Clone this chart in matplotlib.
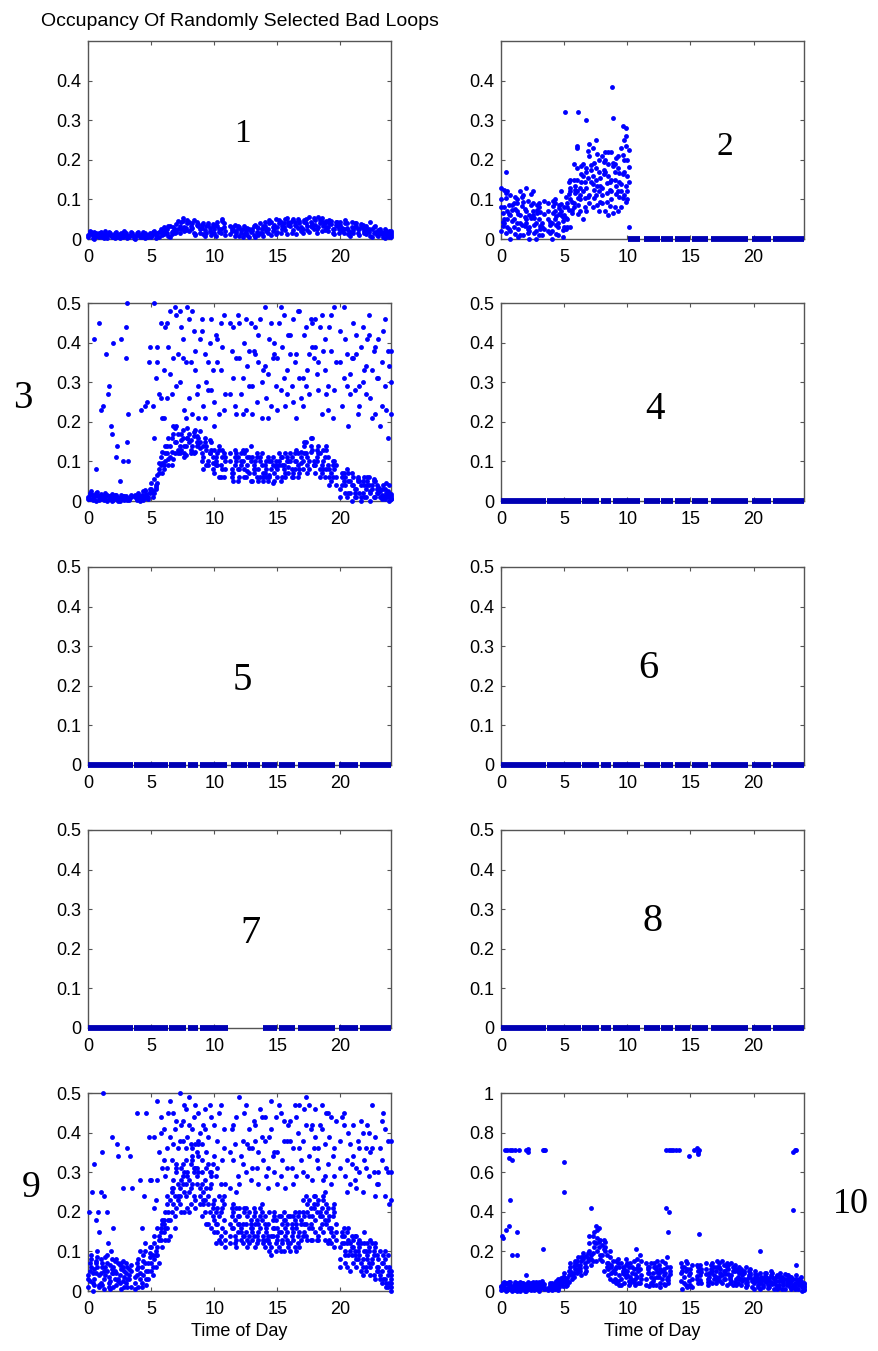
import numpy as np
import matplotlib.pyplot as plt
from matplotlib.ticker import FormatStrFormatter

# sample times (hour of day), 15 min apart, and a second set half a step later
TIME = [0.0, 0.25, 0.5, 0.75, 1.0, 1.25, 1.5, 1.75, 2.0, 2.25, 2.5, 2.75,
        3.0, 3.25, 3.5, 3.75, 4.0, 4.25, 4.5, 4.75, 5.0, 5.25, 5.5, 5.75,
        6.0, 6.25, 6.5, 6.75, 7.0, 7.25, 7.5, 7.75, 8.0, 8.25, 8.5, 8.75,
        9.0, 9.25, 9.5, 9.75, 10.0, 10.25, 10.5, 10.75, 11.0, 11.25, 11.5, 11.75,
        12.0, 12.25, 12.5, 12.75, 13.0, 13.25, 13.5, 13.75, 14.0, 14.25, 14.5, 14.75,
        15.0, 15.25, 15.5, 15.75, 16.0, 16.25, 16.5, 16.75, 17.0, 17.25, 17.5, 17.75,
        18.0, 18.25, 18.5, 18.75, 19.0, 19.25, 19.5, 19.75, 20.0, 20.25, 20.5, 20.75,
        21.0, 21.25, 21.5, 21.75, 22.0, 22.25, 22.5, 22.75, 23.0, 23.25, 23.5, 23.75, 24.0]
TIME2 = [0.125, 0.375, 0.625, 0.875, 1.125, 1.375, 1.625, 1.875, 2.125, 2.375, 2.625, 2.875,
         3.125, 3.375, 3.625, 3.875, 4.125, 4.375, 4.625, 4.875, 5.125, 5.375, 5.625, 5.875,
         6.125, 6.375, 6.625, 6.875, 7.125, 7.375, 7.625, 7.875, 8.125, 8.375, 8.625, 8.875,
         9.125, 9.375, 9.625, 9.875, 10.125, 10.375, 10.625, 10.875, 11.125, 11.375, 11.625, 11.875,
         12.125, 12.375, 12.625, 12.875, 13.125, 13.375, 13.625, 13.875, 14.125, 14.375, 14.625, 14.875,
         15.125, 15.375, 15.625, 15.875, 16.125, 16.375, 16.625, 16.875, 17.125, 17.375, 17.625, 17.875,
         18.125, 18.375, 18.625, 18.875, 19.125, 19.375, 19.625, 19.875, 20.125, 20.375, 20.625, 20.875,
         21.125, 21.375, 21.625, 21.875, 22.125, 22.375, 22.625, 22.875, 23.125, 23.375, 23.625, 23.875, 24.0]

# loop 1
P1_A = [.004,.012,.018,.007, .015,.003,.009,.016, .006,.013,.002,.011, .010,.004,.014,.001,
        .013,.006,.002,.009, .004,.016,.008,.020, .012,.025,.006,.030, .038,.015,.045,.022,
        .020,.040,.012,.033, .028,.008,.036,.018, .015,.032,.024,.040, None,.012,.030,.020,
        .008,.024,.016,.004, .020,.006,.028,.014, .034,.016,.042,.025, .018,.044,.030,.012,
        .040,.022,.034,.046, .026,.050,.018,.038, .048,.030,.052,.022, .020,.038,.012,.032,
        .036,.014,.028,.008, .022,.034,.010,.028, .012,.026,.004,.018, .008,.018,.003,.014, .010]
P1_B = [.014,.003,.008,.016, .006,.012,.018,.004, .015,.004,.010,.017, .003,.012,.007,.015,
        .005,.014,.010,.016, .012,.003,.018,.010, .022,.008,.018,.014, .024,.042,.030,.048,
        .034,.016,.042,.024, .012,.032,.020,.038, .036,.018,.046,.010, None,.026,.008,.032,
        .022,.012,.028,.018, .010,.030,.016,.034, .020,.048,.030,.012, .040,.024,.050,.036,
        .016,.044,.028,.020, .042,.022,.034,.054, .024,.040,.034,.046, .040,.024,.044,.016,
        .020,.040,.012,.030, .030,.016,.038,.020, .022,.008,.030,.014, .016,.006,.012,.020, .006]
P1_C = [.009,.017,.001,.012, .018,.008,.002,.011, .009,.018,.013,.005, .016,.008,.011,.005,
        .018,.010,.015,.004, .008,.020,.014,.024, .030,.016,.034,.020, .018,.034,.052,.028,
        .044,.028,.010,.038, .036,.022,.040,.010, .024,.044,.014,.030, None,.034,.022,.016,
        .030,.006,.020,.026, .026,.036,.010,.024, .044,.026,.010,.036, .030,.014,.040,.052,
        .032,.050,.012,.040, .016,.040,.056,.030, .036,.056,.020,.040, .030,.046,.026,.042,
        .044,.026,.040,.018, .014,.040,.026,.036, .032,.018,.026,.034, .022,.012,.024,.008, .016]
P1_D = [.020,.010,.015,.004, .010,.020,.014,.008, .002,.009,.016,.020, .008,.018,.003,.011,
        .009,.018,.006,.013, .018,.010,.006,.016, .016,.032,.012,.026, .046,.026,.020,.040,
        .026,.048,.036,.016, .040,.016,.028,.034, .008,.026,.050,.020, None,.020,.036,.028,
        .016,.032,.010,.022, .034,.018,.040,.008, .026,.040,.020,.050, .048,.034,.022,.044,
        .046,.036,.050,.030, .048,.032,.044,.024, .016,.048,.044,.030, .048,.014,.036,.024,
        .028,.048,.022,.042, .040,.024,.032,.014, .026,.044,.016,.010, .026,.014,.020,.004, .020]

# loop 2 - 0h to 10h, then zero
P2_L1 = [.02,.08,.05,.11, .03,.07,.01,.093, .04,.00,.06,.02, .08,.03,None,.05, .02,.07,.04,.088,
         .06,.03,.12,.08, .15,.07,.12,.18, .09,.16,.11,.20, .13,.07,.19,.10, .15,.21,.08,.17, .12]
P2_L2 = [.065,.015,.085,.045, .075,.025,.105,.055, .015,.085,.035,.065, .025,.095,None,.015,
         .065,.035,.085,.055, .105,.145,.065,.115, .085,.185,.145,.105, .175,.125,.085,.155,
         .195,.115,.145,.065, .205,.105,.165,.135, .225]
P2_L3 = [.10,.04,.07,.02, .05,.09,.04,.01, .07,.03,.09,.00, .05,.01,None,.07, .04,.09,.01,.06,
         .03,.08,.10,.15, .12,.10,.19,.13, .21,.08,.18,.12, .09,.17,.22,.15, .08,.18,.12,.20, .16]
P2_L4 = [.033,.104,.024,.073, .013,.062,.083,.034, .097,.052,.014,.074, .032,.063,None,.036,
         .083,.012,.064,.023, .053,.113,.072,.134, .103,.143,.082,.223, .143,.193,.133,.093,
         .173,.142,.083,.192, .113,.143,.212,.094, .183]
P2_L5 = [.08,.05,.12,.00, .09,.04,.06,.11, .05,.02,.07,.04, .01,.04,None,.09, .00,.05,.03,.07,
         .08,.05,.15,.09, .18,.11,.16,.07, .11,.23,.15,.17, .11,.20,.16,.12, .17,.07,.14,.11, .20]
P2_L6 = [.044,.117,.063,.087, .107,.004,.036,.076, .024,.113,.054,.086, .068,.026,None,.044,
         .097,.057,.078,.046, .026,.074,.094,.124, .064,.163,.104,.153, .186,.104,.214,.134,
         .164,.094,.124,.184, .134,.166,.104,.236, .144]
P2_L7 = [.13,None,.03,.06, None,.10,.12,None, .13,.06,.12,None, .09,None,None,.02, None,.10,None,.12,
         None,.09,.13,.19, .23,.13,.05,.17, .24,.14,.25,.07, .21,.22,.06,.22, .19,.12,.23,.25, .10]
P2_OUT_X = [0.4, 5.1, 6.1, 6.7, 8.8, 8.9, 9.7, 9.9, 10.1, 0.2, 6.0, 9.9, 4.9, 5.5]
P2_OUT_Y = [0.17, 0.32, 0.32, 0.30, 0.385, 0.305, 0.285, 0.28, 0.03, 0.125, 0.235, 0.26, 0.005, 0.03]
P2_ZERO_START = [10.05, 11.35, 12.7, 13.75, 15.1, 16.6, 19.85, 21.55]
P2_ZERO_END = [11.0, 12.6, 13.65, 14.95, 16.4, 19.6, 21.4, 24.0]

# loop 3 - dense band + scattered high readings
P3_D1 = [.004,.018,.010,.022, .012,.002,.016,.008, .006,.012,.001,.010, .013,.003,None,.009,
         .004,.015,.024,.010, .030,.055,.045,.110, .090,.140,.110,.170, .150,.120,.180,.140,
         .170,.140,.125,.160, .100,.150,.090,.130, .070,.120,.090,.060, None,.100,.050,.120,
         .080,.130,.060,.110, .050,.100,.080,.120, .090,.050,.100,.070, .060,.110,.080,.100,
         .120,.070,.100,.080, .100,.150,.080,.130, .070,.120,.090,.060, .090,.050,.100,None,
         .030,.070,.010,.050, .040,.010,.050,.020, .010,.040,.030,.050, .020,.005,.030,.010, .012]
P3_D2 = [.015,.002,.020,.008, .004,.014,.009,.018, .011,.003,.014,.006, .007,.012,None,.002,
         .012,.002,.008,.020, .010,.030,.080,.070, .120,.090,.160,.120, .120,.170,.140,.160,
         .130,.175,.150,.135, .140,.090,.120,.080, .110,.060,.130,.100, None,.060,.110,.080,
         .120,.060,.090,.140, .090,.060,.110,.050, .060,.100,.045,.090, .100,.060,.120,.070,
         .080,.120,.060,.110, .140,.090,.160,.100, .110,.060,.130,.080, .060,.100,.040,None,
         .060,.020,.070,.040, .020,.050,.000,.040, .050,.020,.010,.030, .010,.030,.015,.040, .004]
P3_D3 = [.010,.024,.004,.014, .018,.008,.001,.013, .002,.015,.008,.013, .010,.006,None,.014,
         .020,.008,.028,.005, .045,.020,.065,.090, .080,.120,.140,.105, .190,.140,.160,.115,
         .150,.125,.180,.145, .120,.160,.100,.150, .130,.090,.060,.120, None,.120,.070,.100,
         .060,.100,.130,.070, .110,.080,.050,.090, .070,.110,.080,.050, .080,.050,.090,.110,
         .100,.060,.130,.070, .080,.120,.100,.160, .090,.140,.070,.110, .110,.070,.080,None,
         .010,.050,.080,.020, .060,.030,.020,.050, .030,.060,.040,.010, .035,.015,.005,.025, .018]
P3_D4 = [.020,.008,.016,.002, .008,.019,.005,.011, .014,.008,.010,.002, .003,.014,None,.006,
         .008,.025,.014,.030, .020,.040,.095,.125, .140,.105,.125,.185, .130,.155,.120,.185,
         .120,.165,.140,.178, .080,.130,.155,.110, .090,.140,.110,.080, None,.080,.130,.050,
         .100,.080,.110,.050, .070,.120,.100,.060, .100,.065,.110,.085, .120,.090,.060,.085,
         .060,.100,.090,.125, .120,.070,.140,.090, .130,.080,.100,.140, .040,.090,.060,None,
         .070,.040,.050,.000, .010,.060,.040,.010, .060,.000,.050,.020, .030,.040,.020,.000, .008]
P3_D5 = [.006,.016,.000,.012, .010,.004,.013,.001, .008,.001,.006,.012, .004,.010,None,.012,
         .000,.010,.018,.022, .025,.035,.070,.095, .100,.160,.090,.150, .170,.130,.110,.160,
         .155,.120,.165,.150, .110,.140,.120,.095, .100,.130,.080,.110, None,.070,.090,.110,
         .090,.120,.075,.100, .080,.110,.060,.070, .080,.060,.090,.100, .090,.110,.070,.100,
         .110,.080,.120,.095, .150,.110,.125,.090, .100,.120,.080,.130, .080,.060,.090,None,
         .040,.060,.020,.070, .030,.055,.010,.060, .040,.025,.055,.040, .025,.010,.045,.020, .005]
P3_S1 = [None]*20 + [
         None,0.50,0.39,0.45, 0.33,0.26,0.48,0.36, 0.47,0.30,0.41,0.35, 0.46,0.22,0.38,0.29,
         0.43,0.37,0.28,0.46, 0.25,0.41,0.33,0.47, None,0.27,0.44,0.36, 0.45,0.31,0.23,0.38,
         0.29,0.44,0.35,0.21, 0.49,0.32,0.24,0.40, 0.36,0.28,0.47,0.33, 0.42,0.25,0.37,0.48,
         0.31,0.44,0.27,0.39, 0.46,0.35,0.22,0.41, 0.29,0.38,0.49,None, 0.43,0.31,0.37,0.27,
         0.36,0.42,0.29,0.44, 0.34,0.47,0.33,0.22, 0.41,0.35,0.29,0.38, 0.30]
P3_S2 = [None]*20 + [
         0.24,0.31,0.27,0.21, 0.44,0.39,0.27,0.49, 0.37,0.44,0.23,0.49, 0.35,0.43,0.27,0.41,
         0.24,0.30,0.40,0.33, 0.42,0.22,0.39,0.27, None,0.38,0.24,0.47, 0.27,0.40,0.34,0.45,
         0.38,0.25,0.46,0.33, 0.26,0.41,0.36,0.29, 0.45,0.39,0.24,0.42, 0.29,0.35,0.48,0.26,
         0.42,0.33,0.46,0.36, 0.32,0.44,0.38,0.27, 0.44,0.21,0.35,None, 0.24,0.41,0.19,0.36,
         0.28,0.22,0.39,0.33, 0.41,0.26,0.38,0.31, 0.19,0.43,0.23,0.34, 0.22]
P3_S3 = [None]*20 + [
         None,0.16,0.35,0.26, 0.21,0.45,0.32,0.19, 0.29,0.48,0.36,0.21, 0.26,0.48,0.33,0.21,
         0.46,0.21,0.35,0.28, 0.19,0.35,0.45,0.23, None,0.45,0.31,0.22, 0.36,0.22,0.46,0.29,
         0.22,0.37,0.42,0.30, 0.34,0.21,0.45,0.37, 0.23,0.49,0.31,0.27, 0.37,0.46,0.21,0.31,
         0.24,0.29,0.37,0.45, 0.39,0.28,0.47,0.33, 0.23,0.47,0.28,None, 0.35,0.49,0.29,0.32,
         0.45,0.37,0.24,0.30, 0.27,0.42,0.21,0.39, 0.31,0.24,0.46,0.16, 0.38]
P3_EX = [0.5, 0.9, 1.0, 1.2, 1.4, 1.6, 1.7, 1.8, 1.9, 2.0, 2.2, 2.3, 2.5, 2.6, 2.8, 3.0, 3.0, 3.1,
         3.2, 3.2, 0.6, 4.9, 4.7, 4.5, 3.1, 4.2, 4.8]
P3_EY = [0.41, 0.45, 0.23, 0.24, 0.37, 0.27, 0.29, 0.19, 0.17, 0.40, 0.11, 0.14, 0.05, 0.41, 0.10,
         0.44, 0.36, 0.15, 0.22, 0.10, 0.08, 0.39, 0.25, 0.24, 0.50, 0.23, 0.35]

# loops 4-8 - stuck at zero, runs of readings
ZERO_START = [0.0, 3.65, 6.45, 7.95, 8.9, 11.35, 12.7, 13.75, 15.1, 16.6, 19.85, 21.55]
ZERO_END = [3.55, 6.3, 7.8, 8.75, 11.0, 12.6, 13.65, 14.95, 16.4, 19.6, 21.4, 24.0]
P7_ZERO_START = [0.0, 3.65, 6.45, 7.95, 8.9, 13.85, 15.1, 16.6, 19.85, 21.55]
P7_ZERO_END = [3.55, 6.3, 7.8, 8.75, 11.05, 14.95, 16.4, 19.6, 21.4, 24.0]

# loop 9
P9_D1 = [.010,.060,.030,.085, .045,.005,.070,.025, .060,.015,.040,.075, .020,.055,None,.035,
         .080,.020,.100,.050, .050,.120,.090,.160, .150,.220,.180,.260, .300,.220,.270,.330,
         .250,.330,.210,.300, .190,.280,.220,.160, .150,.210,.120,.180, None,.140,.200,.110,
         .190,.120,.170,.140, .130,.200,.150,.180, .110,.170,.140,.190, .160,.100,.180,.130,
         .120,.190,.100,.150, .200,.140,.230,.160, .150,.230,.190,.130, .180,.120,.200,None,
         .080,.140,.060,.120, .110,.060,.130,.080, .050,.100,.070,.110, .060,.020,.080,.040, .010]
P9_D2 = [.050,.000,.075,.040, .015,.060,.035,.080, .030,.070,.005,.050, .060,.010,None,.070,
         .030,.090,.050,.110, .090,.060,.140,.110, .200,.130,.250,.190, .240,.310,.200,.290,
         .320,.240,.350,.260, .250,.170,.300,.210, .200,.130,.230,.110, None,.190,.120,.170,
         .130,.200,.110,.180, .190,.120,.210,.140, .150,.100,.180,.120, .110,.170,.140,.190,
         .170,.110,.190,.130, .150,.220,.130,.210, .220,.160,.240,.200, .130,.210,.150,None,
         .140,.070,.160,.090, .140,.100,.050,.120, .120,.040,.090,.060, .030,.090,.010,.060, .040]
P9_D3 = [.030,.090,.015,.060, .080,.030,.050,.005, .010,.045,.065,.025, .045,.030,None,.005,
         .060,.010,.070,.030, .110,.080,.160,.130, .170,.240,.140,.220, .210,.260,.320,.240,
         .280,.360,.230,.340, .300,.230,.170,.270, .230,.170,.140,.220, None,.120,.160,.210,
         .170,.140,.210,.120, .150,.170,.130,.220, .190,.130,.110,.160, .140,.190,.100,.170,
         .100,.150,.170,.110, .230,.170,.190,.130, .180,.130,.210,.250, .210,.150,.110,None,
         .110,.160,.120,.050, .070,.140,.090,.040, .100,.070,.120,.030, .080,.050,.030,.090, .020]
P9_D4 = [.070,.020,.045,.010, .060,.085,.010,.045, .075,.030,.055,.010, .030,.065,None,.055,
         .100,.040,.030,.085, .040,.100,.070,.180, .130,.180,.200,.160, .270,.200,.300,.210,
         .220,.300,.270,.240, .220,.310,.260,.190, .120,.240,.160,.150, None,.210,.140,.190,
         .150,.210,.130,.160, .210,.140,.190,.120, .130,.200,.160,.100, .190,.120,.160,.110,
         .140,.200,.120,.180, .170,.130,.210,.240, .130,.200,.150,.220, .160,.190,.130,None,
         .150,.100,.090,.140, .090,.120,.070,.150, .080,.130,.040,.090, .100,.030,.060,.020, .030]
P9_D5 = [.040,.080,.055,.100, .020,.050,.090,.065, .045,.080,.020,.060, .070,.040,None,.020,
         .010,.060,.120,.070, .070,.140,.110,.150, .180,.160,.230,.280, .320,.240,.290,.270,
         .200,.270,.310,.370, .270,.200,.240,.300, .180,.150,.200,.240, None,.170,.220,.130,
         .210,.170,.150,.200, .160,.110,.170,.200, .170,.140,.090,.200, .130,.150,.200,.150,
         .190,.130,.160,.200, .140,.240,.160,.190, .240,.140,.170,.180, .120,.160,.220,None,
         .060,.120,.150,.100, .130,.080,.110,.060, .060,.110,.080,.120, .050,.070,.100,.010, .050]
P9_D6 = [.025,.045,.070,.015, .070,.040,.020,.055, .050,.025,.070,.035, .010,.050,None,.040,
         .045,.075,.015,.095, .060,.090,.130,.170, .160,.200,.260,.240, .230,.280,.250,.300,
         .260,.310,.290,.220, .230,.260,.200,.220, .170,.190,.210,.130, None,.160,.180,.150,
         .160,.140,.190,.170, .140,.180,.160,.130, .160,.120,.140,.180, .150,.130,.180,.120,
         .160,.180,.140,.170, .190,.200,.170,.220, .200,.190,.230,.170, .190,.140,.170,None,
         .120,.090,.130,.110, .100,.080,.120,.100, .090,.060,.100,.050, .040,.070,.020,.050, .000]
P9_S1 = [None]*20 + [
         0.28,0.39,0.48,0.44, 0.41,0.36,0.48,0.37, 0.43,0.5,0.38,0.46, 0.49,0.41,0.37,0.45,
         0.33,0.46,0.39,0.29, 0.42,0.31,0.47,0.36, None,0.26,0.33,0.44, 0.49,0.38,0.3,0.41,
         0.36,0.42,0.27,0.39, 0.44,0.31,0.48,0.35, 0.27,0.45,0.38,0.31, 0.43,0.36,0.29,0.47,
         0.38,0.49,0.34,0.42, 0.46,0.31,0.41,0.37, 0.32,0.44,0.29,None, 0.38,0.45,0.33,0.27,
         0.42,0.31,0.36,0.25, 0.36,0.29,0.47,0.39, 0.3,0.43,0.24,0.38, 0.23]
P9_S2 = [None]*20 + [
         None,0.23,0.35,0.31, 0.29,0.45,0.33,0.41, 0.36,0.42,0.47,0.39, 0.37,0.44,0.31,0.4,
         0.42,0.35,0.47,0.32, 0.29,0.45,0.33,0.27, None,0.41,0.37,0.29, 0.34,0.45,0.37,0.28,
         0.43,0.31,0.46,0.33, 0.29,0.39,0.34,0.44, 0.47,0.33,0.26,0.42, 0.31,0.47,0.4,0.33,
         0.46,0.29,0.41,0.36, 0.33,0.42,0.28,0.45, 0.39,0.34,0.43,None, 0.44,0.29,0.4,0.32,
         0.28,0.38,0.43,0.33, 0.42,0.35,0.3,0.27, 0.36,0.45,0.31,0.22, 0.3]
P9_S3 = [None]*20 + [
         None,0.21,0.28,0.4, 0.33,0.31,0.39,0.45, 0.31,0.38,0.43,0.36, 0.42,0.34,0.47,0.38,
         0.37,0.41,0.32,0.44, 0.34,0.38,0.27,0.41, None,0.35,0.42,0.25, 0.27,0.32,0.47,0.36,
         0.31,0.38,0.35,0.44, 0.38,0.26,0.41,0.3, 0.35,0.29,0.43,0.38, 0.38,0.27,0.44,0.36,
         0.3,0.42,0.47,0.28, 0.39,0.36,0.47,0.29, 0.45,0.27,0.36,None, 0.31,0.42,0.25,0.37,
         0.34,0.26,0.3,0.4, 0.31,0.4,0.36,0.24, 0.27,0.33,0.41,0.3, 0.38]
P9_EX = [0.3, 0.5, 0.6, 0.8, 1.0, 1.1, 1.2, 1.3, 1.5, 1.8, 1.9, 2.0, 2.3, 2.4, 2.8, 3.1, 3.3, 3.5,
         3.9, 4.1, 4.3, 4.4, 4.6, 4.8, 4.9, 0.1, 0.9, 1.6]
P9_EY = [0.25, 0.32, 0.18, 0.2, 0.25, 0.35, 0.5, 0.24, 0.2, 0.1, 0.39, 0.16, 0.37, 0.34, 0.26, 0.36,
         0.34, 0.26, 0.45, 0.28, 0.16, 0.24, 0.45, 0.39, 0.28, 0.2, 0.15, 0.12]

# loop 10
P10_L1 = [.005,.030,.015,.045, .020,.040,.000,.025, .035,.010,.045,.020, .000,.040,None,.015,
          .030,.010,.060,.040, .070,.050,.120,.090, .150,.100,.170,.120, .200,.280,.150,.250,
          .180,.220,.080,.120, .060,.140,.030,.110, .100,.040,.150,.070, .180,None,.060,.120,
          .090,.030,.130,.060, .140,.070,None,None, None,.050,.120,.020, .090,None,.060,.130,
          None,.110,.050,.140, .070,.120,.040,.100, .110,.050,.130,.070, .030,.090,.060,.110,
          .040,.080,.010,.060, .070,.020,.090,.050, .030,.070,.010,.060, .050,.010,.040,.070, .020]
P10_L2 = [.040,.010,.035,.000, .045,.010,.030,.005, .015,.040,.005,.035, .030,.010,None,.040,
          .010,.045,.020,.070, .040,.100,.080,.140, .110,.170,.090,.150, .160,.220,.310,.180,
          .260,.120,.170,.050, .120,.030,.090,.160, .050,.120,.030,.100, .080,None,.120,.040,
          .140,.070,.040,.110, .060,.100,None,None, None,.100,.030,.080, .130,None,.100,.040,
          None,.060,.130,.080, .120,.050,.100,.140, .060,.120,.030,.090, .080,.020,.100,.050,
          .070,.020,.060,.090, .030,.080,.040,.010, .070,.040,.080,.020, .020,.060,.030,.000, .035]
P10_L3 = [.020,.045,.005,.030, .010,.025,.045,.035, .000,.025,.030,.010, .045,.025,None,.005,
          .040,.025,.005,.055, .090,.030,.140,.070, .090,.130,.190,.100, .280,.150,.240,.320,
          .150,.250,.140,.090, .090,.160,.060,.040, .140,.070,.110,.160, .040,None,.030,.090,
          .050,.110,.090,.150, .030,.040,None,None, None,.140,.070,.110, .030,None,.130,.080,
          None,.140,.090,.040, .040,.140,.080,.060, .130,.080,.100,.040, .110,.060,.030,.090,
          .010,.050,.090,.030, .090,.050,.070,.030, .050,.010,.060,.080, .070,.040,.010,.050, .005]
P10_L4 = [.030,.000,.045,.020, .035,.015,.040,.000, .045,.020,.010,.040, .015,.035,None,.030,
          .020,.050,.040,.025, .025,.080,.060,.110, .170,.080,.140,.190, .130,.300,.200,.260,
          .100,.180,.200,.150, .150,.080,.120,.070, .030,.090,.060,.130, .150,None,.090,.140,
          .120,.150,.020,.080, .170,.120,None,None, None,.010,.150,.050, .060,None,.040,.110,
          None,.030,.110,.120, .150,.090,.130,.030, .040,.100,.060,.120, .050,.120,.080,.020,
          .100,.030,.070,.050, .060,.100,.010,.080, .090,.060,.030,.040, .030,.080,.060,.020, .040]
P10_L5 = [.025,.012,.040,.008, .030,.002,.020,.042, .008,.032,.022,.046, .020,.048,None,.010,
          .006,.035,.055,.065, .055,.065,.100,.125, .130,.115,.160,.175, .240,.190,.330,.220,
          .230,.200,.110,.130, .110,.050,.140,.085, .080,.140,.045,.115, .110,None,.140,.025,
          .030,.120,.070,.100, .090,.055,None,None, None,.090,.040,.140, .110,None,.075,.055,
          None,.085,.070,.100, .100,.070,.150,.085, .085,.140,.045,.100, .060,.100,.045,.080,
          .050,.065,.040,.020, .045,.065,.035,.070, .015,.050,.085,.035, .010,.025,.050,.035, .025]
P10_L6 = [.010,.038,.022,.012, .005,.028,.010,.022, .028,.005,.038,.015, .008,.022,None,.020,
          .035,.015,.030,.045, .060,.045,.090,.150, .100,.150,.120,.165, .180,.250,.270,.160,
          .210,.140,.060,.100, .040,.120,.100,.130, .120,.055,.085,.040, .060,None,.110,.070,
          .065,.095,.110,.035, .120,.085,None,None, None,.120,.100,.025, .020,None,.120,.095,
          None,.045,.090,.060, .055,.110,.060,.120, .070,.030,.110,.060, .095,.040,.070,.060,
          .085,.060,.045,.075, .015,.045,.060,.025, .065,.030,.045,.070, .060,.015,.045,.030, .010]
P10_OUT_X = [0.3, 0.5, 0.7, 0.9, 1.1, 1.4, 2.0, 2.1, 2.1, 3.3, 3.4, 3.5, 13.1, 13.3, 13.5, 13.6,
             13.9, 14.1, 15.3, 15.5, 15.6, 15.7, 23.1, 23.3, 23.4,
             0.1, 0.15, 0.4, 0.65, 0.75, 0.6, 0.85, 0.9, 1.3, 1.3, 2.0, 3.3, 5.0, 5.0, 7.1,
             13.1, 13.3, 13.2, 14.9, 15.6, 15.7, 20.5, 23.1, 23.4, 10.7]
P10_OUT_Y = [0.71, 0.71, 0.71, 0.71, 0.71, 0.71, 0.71, 0.70, 0.715, 0.71, 0.71, 0.71, 0.71, 0.71,
             0.71, 0.71, 0.71, 0.71, 0.71, 0.72, 0.70, 0.71, 0.70, 0.71, 0.71,
             0.28, 0.27, 0.31, 0.33, 0.46, 0.67, 0.66, 0.18, 0.18, 0.30, 0.08, 0.21, 0.65, 0.50, 0.42,
             0.42, 0.40, 0.30, 0.68, 0.69, 0.29, 0.20, 0.41, 0.13, 0.21]

BLUE = '#0000ff'
DARK = '#0000b4'
plt.rcParams['font.family'] = ['Liberation Sans', 'DejaVu Sans']

W, H = 879, 1351
fig = plt.figure(figsize=(W / 100, H / 100), dpi=100)

lefts = [88, 501]
tops = [41, 303, 567, 830, 1093]
aw, ah = 303, 198
axes = []
for i in range(10):
    r, c = divmod(i, 2)
    ax = fig.add_axes([lefts[c] / W, 1 - (tops[r] + ah) / H, aw / W, ah / H])
    ax.set_xlim(0, 24)
    ax.set_xticks([0, 5, 10, 15, 20])
    ax.set_ylim(0, 0.5)
    ax.set_yticks([0, 0.1, 0.2, 0.3, 0.4, 0.5])
    ax.yaxis.set_major_formatter(FormatStrFormatter('%g'))
    ax.tick_params(direction='in', top=True, right=True, length=3, width=0.8,
                   color='#555555', labelsize=13, pad=5)
    ax.tick_params(axis='x', pad=7)
    for s in ax.spines.values():
        s.set_color('#555555')
        s.set_linewidth(1.0)
    axes.append(ax)


def dots(ax, x, y):
    ax.plot(x, np.array(y, dtype=float), 'o', ms=3.5, mew=0, color=BLUE,
            clip_on=False, zorder=3)


def zero_runs(ax, starts, ends):
    ax.hlines([0] * len(starts), starts, ends, lw=4.2, color=DARK, clip_on=False, zorder=3)


# 1
for k, layer in enumerate([P1_A, P1_B, P1_C, P1_D]):
    dots(axes[0], TIME if k % 2 == 0 else TIME2, layer)
axes[0].set_yticks([0, 0.1, 0.2, 0.3, 0.4])
# 2
for k, layer in enumerate([P2_L1, P2_L2, P2_L3, P2_L4, P2_L5, P2_L6, P2_L7]):
    dots(axes[1], (TIME if k % 2 == 0 else TIME2)[:41], layer)
dots(axes[1], P2_OUT_X, P2_OUT_Y)
zero_runs(axes[1], P2_ZERO_START, P2_ZERO_END)
axes[1].set_yticks([0, 0.1, 0.2, 0.3, 0.4])
# 3
for k, layer in enumerate([P3_D1, P3_D2, P3_D3, P3_D4, P3_S1, P3_S2, P3_S3, P3_D5]):
    dots(axes[2], TIME if k % 2 == 0 else TIME2, layer)
dots(axes[2], P3_EX, P3_EY)
# 4-8
for k in [3, 4, 5, 7]:
    zero_runs(axes[k], ZERO_START, ZERO_END)
zero_runs(axes[6], P7_ZERO_START, P7_ZERO_END)
# 9
for k, layer in enumerate([P9_D1, P9_D2, P9_D3, P9_D4, P9_D5, P9_D6, P9_S1, P9_S2, P9_S3]):
    dots(axes[8], TIME if k % 2 == 0 else TIME2, layer)
dots(axes[8], P9_EX, P9_EY)
# 10
for k, layer in enumerate([P10_L1, P10_L2, P10_L3, P10_L4, P10_L5, P10_L6]):
    dots(axes[9], TIME if k % 2 == 0 else TIME2, layer)
dots(axes[9], P10_OUT_X, P10_OUT_Y)
axes[9].set_ylim(0, 1)
axes[9].set_yticks([0, 0.2, 0.4, 0.6, 0.8, 1.0])

axes[8].set_xlabel('Time of Day', fontsize=13, labelpad=4)
axes[9].set_xlabel('Time of Day', fontsize=13, labelpad=4)
axes[0].set_title('Occupancy Of Randomly Selected Bad Loops', fontsize=14, pad=11)

# loop numbers
label_pos = [(12.2, 0.265), (17.7, 0.234), (-5.2, 0.26), (12.2, 0.23), (12.2, 0.214),
             (11.7, 0.244), (12.9, 0.239), (12.0, 0.269), (-4.5, 0.261), (27.7, 0.437)]
label_size = [24, 24, 28, 28, 28, 29, 29, 29, 27, 26]
for i, ax in enumerate(axes):
    x, y = label_pos[i]
    ax.text(x, y, str(i + 1), ha='center', va='center', family='Liberation Serif',
            fontsize=label_size[i], clip_on=False)

fig.savefig('out.png', dpi=100)
